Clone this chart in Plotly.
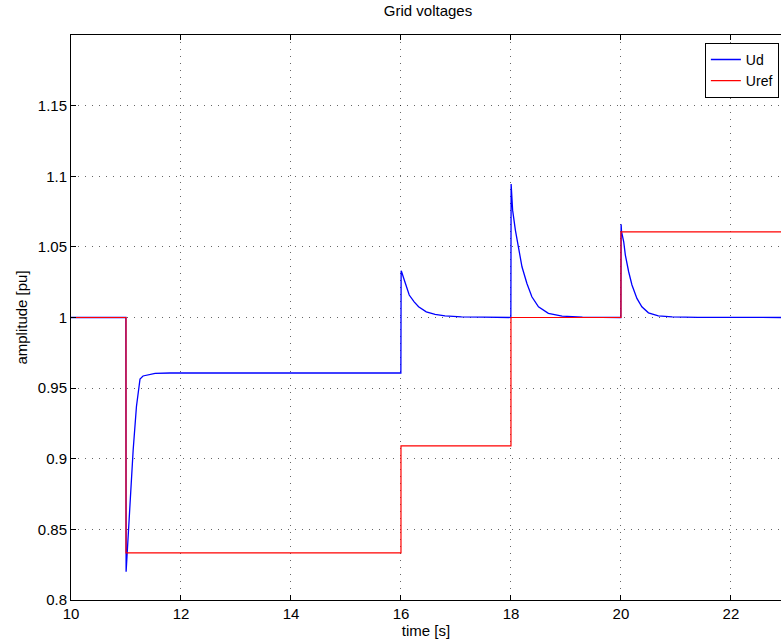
import plotly.graph_objects as go

# Measured d-axis voltage (per unit) over time
ud_t = [10.0, 10.998, 11.002, 11.06, 11.13, 11.19, 11.255, 11.31, 11.44, 11.53, 11.8,
        15.998, 16.003, 16.01, 16.06, 16.12, 16.15, 16.24, 16.32, 16.46, 16.62, 16.8, 17.1, 17.5,
        17.998, 18.003, 18.01, 18.03, 18.08, 18.14, 18.2, 18.29, 18.38, 18.5, 18.68, 18.93, 19.3,
        19.998, 20.003, 20.01, 20.05, 20.08, 20.14, 20.2, 20.29, 20.38, 20.5, 20.68, 20.93, 21.4, 23.0]
ud_v = [1.0, 1.0, 0.820, 0.859, 0.906, 0.937, 0.9565, 0.9586, 0.960, 0.9605, 0.9607,
        0.9607, 1.0331, 1.0325, 1.0265, 1.0182, 1.0159, 1.0111, 1.0076, 1.0040, 1.0022, 1.0012, 1.0005, 1.0002,
        1.0, 1.0945, 1.088, 1.076, 1.0619, 1.0477, 1.0359, 1.0241, 1.0147, 1.0076, 1.0029, 1.0010, 1.0003,
        1.0, 1.066, 1.061, 1.0536, 1.0442, 1.0324, 1.023, 1.0135, 1.0076, 1.0033, 1.0012, 1.0004, 1.0001, 1.0]

# Voltage reference steps
uref_t = [10.0, 11.0, 11.0, 16.0, 16.0, 18.0, 18.0, 20.0, 20.0, 23.0]
uref_v = [1.0, 1.0, 0.8333, 0.8333, 0.9091, 0.9091, 1.0, 1.0, 1.0606, 1.0606]

x_ticks = [10, 12, 14, 16, 18, 20, 22]
y_ticks = [0.8, 0.85, 0.9, 0.95, 1.0, 1.05, 1.1, 1.15]
y_tick_text = ["0.8", "0.85", "0.9", "0.95", "1", "1.05", "1.1", "1.15"]

FONT = "Liberation Sans, Arial, sans-serif"

fig = go.Figure()
fig.add_trace(go.Scatter(x=ud_t, y=ud_v, mode="lines", name="Ud",
                         line=dict(color="#0000ff", width=1.3)))
fig.add_trace(go.Scatter(x=uref_t, y=uref_v, mode="lines", name="Uref",
                         line=dict(color="#ff0000", width=1.2)))

axis_common = dict(
    showline=True, linecolor="black", linewidth=1,
    ticks="inside", ticklen=5, tickcolor="black",
    showgrid=True, gridcolor="rgba(0,0,0,0.6)", griddash="1px,6px", gridwidth=1,
    zeroline=False, tickfont=dict(family=FONT, size=15, color="black"),
)

fig.update_layout(
    width=781, height=644,
    margin=dict(l=71, r=0, t=35, b=44),
    paper_bgcolor="white", plot_bgcolor="white",
    font=dict(family=FONT, size=15, color="black"),
    title=dict(text="Grid voltages", x=(428 / 781), xanchor="center",
               y=1 - 11 / 644, yanchor="middle",
               font=dict(family=FONT, size=15, color="black")),
    xaxis=dict(range=[10, 22.91], tickvals=x_ticks, mirror="ticks",
               title=dict(text="time [s]", standoff=4,
                          font=dict(family=FONT, size=15)),
               **axis_common),
    yaxis=dict(range=[0.8, 1.2], tickvals=y_ticks, ticktext=y_tick_text,
               mirror=False,
               title=dict(text="amplitude [pu]", standoff=6,
                          font=dict(family=FONT, size=15)),
               **axis_common),
    legend=dict(x=0.997, y=0.986, xanchor="right", yanchor="top",
                bgcolor="white", bordercolor="black", borderwidth=1,
                font=dict(family=FONT, size=14, color="black"),
                tracegroupgap=0, itemwidth=30,
                entrywidth=90, entrywidthmode="pixels"),
    showlegend=True,
)

fig.write_html("out.html")
